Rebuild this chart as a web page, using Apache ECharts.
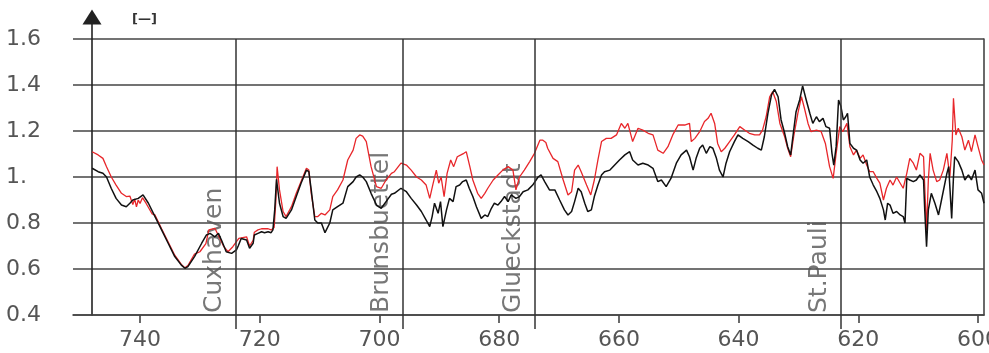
<!DOCTYPE html>
<html>
<head>
<meta charset="utf-8">
<script src="https://cdn.jsdelivr.net/npm/echarts@6/dist/echarts.min.js"></script>
<style>
  html, body { margin: 0; padding: 0; background: #fff; }
  #chart { width: 989px; height: 353px; }
</style>
</head>
<body>
<div id="chart"></div>
<script>
// river km (decreasing downstream -> upstream)
const blackKm = [748.0, 747.0, 746.2, 745.6, 744.8, 744.0, 743.1, 742.3, 741.7, 741.2, 740.3, 739.5, 738.6, 737.5, 736.4, 735.3, 734.2, 733.1, 732.5, 732.0, 730.9, 729.7, 728.9, 728.3, 727.5, 726.9, 726.4, 725.6, 724.7, 723.9,
  723.6, 723.1, 722.2, 721.7, 721.1, 720.9, 720.3, 719.7, 719.2, 718.6, 718.1, 717.8, 717.5, 717.2, 716.7, 716.1, 715.6, 714.7, 713.9, 713.1, 712.2, 711.8, 711.4, 710.8, 710.3, 709.7, 709.1, 708.3, 707.8, 707.0, 706.1, 705.3, 704.4, 703.9, 703.3, 702.8, 702.2, 701.4, 700.5, 699.7, 698.9,
  698.0, 697.5, 696.4, 695.5, 694.7, 693.8, 693.0, 692.2, 691.6, 691.2, 690.8, 690.2, 689.8, 689.4, 688.8, 688.3, 687.7, 687.2, 686.6, 686.1, 685.5, 685.0, 684.4, 683.8, 683.0, 682.4, 681.9, 681.3, 680.8, 680.2, 679.7, 679.1, 678.5, 678.0, 677.2, 676.6, 676.0, 675.2, 674.4, 673.5,
  673.0, 672.4, 671.6, 670.7, 669.9, 669.1, 668.5, 667.9, 667.4, 666.8, 666.3, 665.7, 665.2, 664.6, 664.1, 663.5, 662.9, 662.4, 661.5, 660.7, 659.9, 659.0, 658.2, 657.7, 656.8, 656.0, 655.1, 654.3, 653.5, 652.9, 652.1, 651.3, 650.4, 649.6, 648.7,
  648.2, 647.6, 647.1, 646.5, 646.0, 645.4, 644.8, 644.3, 643.7, 643.2, 642.6, 642.1, 641.5, 640.7, 640.1, 639.3, 638.4, 637.6, 636.8, 636.2, 635.7, 635.1, 634.5, 634.0, 633.4, 632.9, 632.3, 631.8, 631.3, 631.0, 630.4, 629.8, 629.3, 628.7, 628.1, 627.6, 627.0, 626.5, 625.9, 625.4, 624.8, 624.4, 624.1, 623.7, 623.3,
  622.9, 622.5, 622.1, 621.8, 621.4, 620.8, 620.3, 619.7, 619.2, 618.6, 618.1, 617.5, 616.9, 616.4, 615.8, 615.5, 615.1, 614.7, 614.2, 613.6, 613.0, 612.5, 612.2, 611.9, 611.4, 610.8, 610.3, 609.7, 609.1, 608.9, 608.6, 608.3, 607.8, 607.2, 606.6, 606.1, 605.2, 604.9, 604.4, 604.1, 603.9, 603.3, 602.7, 602.2, 601.6, 601.1, 600.5, 600.0, 599.4, 599.0];
const blackVal = [1.038, 1.023, 1.016, 1.000, 0.950, 0.907, 0.878, 0.871, 0.886, 0.900, 0.907, 0.922, 0.886, 0.828, 0.770, 0.712, 0.654, 0.617, 0.603, 0.610, 0.654, 0.712, 0.748, 0.755, 0.740, 0.755, 0.726, 0.675, 0.668, 0.683,
  0.700, 0.733, 0.726, 0.690, 0.712, 0.748, 0.755, 0.762, 0.758, 0.762, 0.758, 0.770, 0.857, 0.990, 0.886, 0.828, 0.820, 0.857, 0.915, 0.973, 1.030, 1.023, 0.944, 0.813, 0.800, 0.800, 0.758, 0.800, 0.857, 0.871, 0.886, 0.958, 0.980, 1.000, 1.009, 1.000, 0.980, 0.929, 0.878, 0.864, 0.893,
  0.925, 0.929, 0.951, 0.936, 0.907, 0.878, 0.850, 0.813, 0.784, 0.828, 0.886, 0.842, 0.893, 0.784, 0.857, 0.907, 0.893, 0.958, 0.965, 0.980, 0.987, 0.951, 0.915, 0.871, 0.820, 0.835, 0.828, 0.864, 0.886, 0.878, 0.893, 0.915, 0.893, 0.922, 0.907, 0.915, 0.936, 0.944, 0.965, 1.000,
  1.009, 0.980, 0.944, 0.944, 0.900, 0.857, 0.835, 0.850, 0.893, 0.951, 0.936, 0.886, 0.850, 0.857, 0.915, 0.965, 1.009, 1.023, 1.030, 1.052, 1.074, 1.096, 1.110, 1.074, 1.052, 1.060, 1.052, 1.038, 0.980, 0.987, 0.958, 0.994, 1.060, 1.096, 1.117,
  1.088, 1.030, 1.081, 1.125, 1.139, 1.103, 1.132, 1.125, 1.081, 1.030, 1.000, 1.060, 1.110, 1.154, 1.183, 1.168, 1.154, 1.139, 1.125, 1.117, 1.175, 1.277, 1.357, 1.381, 1.349, 1.248, 1.190, 1.132, 1.096, 1.161, 1.284, 1.335, 1.396, 1.335, 1.277, 1.233, 1.262, 1.241, 1.255, 1.219, 1.212, 1.103, 1.052, 1.132, 1.335,
  1.306, 1.248, 1.262, 1.277, 1.146, 1.125, 1.117, 1.074, 1.060, 1.074, 1.000, 0.965, 0.936, 0.907, 0.857, 0.813, 0.886, 0.878, 0.842, 0.850, 0.835, 0.828, 0.800, 0.994, 0.987, 0.980, 0.987, 1.009, 0.987, 0.857, 0.697, 0.857, 0.929, 0.886, 0.835, 0.900, 1.016, 1.045, 0.820, 1.000, 1.088, 1.067, 1.030, 0.987, 1.009, 0.987, 1.030, 0.944, 0.929, 0.886];

const redKm = [748.0, 747.0, 746.2, 745.6, 744.8, 744.0, 743.1, 742.3, 741.7, 741.2, 740.9, 740.6, 740.3, 740.0, 739.6, 739.0, 738.0, 737.5, 736.4, 735.3, 734.2, 733.1, 732.5, 732.0, 730.9, 730.0, 729.0, 728.5, 727.5, 726.8, 726.0, 725.3, 724.5, 723.5,
  722.2, 721.7, 721.1, 720.9, 720.3, 719.7, 718.6, 718.1, 717.6, 717.3, 717.1, 716.7, 716.1, 715.6, 714.7, 713.9, 713.1, 712.2, 711.8, 711.4, 710.8, 710.3, 709.7, 709.1, 708.3, 707.8, 707.0, 706.1, 705.3, 704.4, 703.9, 703.3, 702.8, 702.2, 701.4, 700.5, 699.7, 698.9,
  698.0, 697.5, 696.4, 695.5, 694.7, 693.8, 693.0, 692.2, 691.6, 691.1, 690.5, 690.1, 689.7, 689.2, 688.7, 688.1, 687.6, 687.0, 686.4, 685.9, 685.5, 684.9, 684.4, 683.6, 683.0, 682.4, 681.9, 681.0, 680.2, 679.4, 678.5, 677.7, 677.2, 676.6, 675.8, 674.9, 674.1, 673.2,
  672.7, 672.2, 671.9, 671.0, 670.2, 669.3, 668.5, 667.9, 667.4, 666.8, 666.3, 665.4, 664.7, 664.1, 663.5, 662.9, 662.1, 661.3, 660.4, 659.6, 659.0, 658.5, 657.7, 656.8, 656.0, 655.1, 654.3, 653.5, 652.6, 651.8, 651.0, 650.1, 649.0, 648.2,
  647.9, 647.3, 646.5, 645.7, 645.1, 644.6, 644.0, 643.5, 642.9, 642.3, 641.5, 640.7, 639.8, 639.0, 638.2, 637.3, 636.5, 636.0, 635.4, 634.8, 634.3, 633.7, 633.1, 632.3, 631.8, 631.3, 630.8, 630.1, 629.5, 629.0, 628.4, 627.9, 627.0, 626.2, 625.5, 624.8, 624.2, 623.7, 623.1, 622.6,
  622.3, 621.9, 621.4, 620.8, 620.3, 619.7, 619.2, 618.6, 618.1, 617.5, 616.9, 616.4, 615.8, 615.3, 614.7, 614.2, 613.6, 613.0, 612.5, 611.9, 611.4, 610.8, 610.3, 609.7, 609.1, 608.9, 608.6, 608.3, 608.0, 607.5, 606.9, 606.4, 605.8, 605.2, 604.7, 604.3, 604.1, 603.7, 603.3, 602.7, 602.2, 601.6, 601.1, 600.5, 600.0, 599.4, 599.0];
const redVal = [1.110, 1.096, 1.081, 1.045, 1.000, 0.965, 0.929, 0.915, 0.917, 0.880, 0.905, 0.870, 0.900, 0.885, 0.910, 0.886, 0.840, 0.835, 0.775, 0.717, 0.660, 0.620, 0.605, 0.615, 0.665, 0.675, 0.710, 0.770, 0.777, 0.740, 0.697, 0.675, 0.697, 0.733,
  0.740, 0.700, 0.725, 0.760, 0.770, 0.775, 0.775, 0.770, 0.780, 0.900, 1.045, 0.944, 0.850, 0.828, 0.871, 0.929, 0.980, 1.038, 1.030, 0.929, 0.828, 0.828, 0.842, 0.835, 0.857, 0.915, 0.944, 0.987, 1.074, 1.117, 1.168, 1.183, 1.178, 1.154, 1.045, 0.958, 0.951, 0.987,
  1.016, 1.023, 1.060, 1.052, 1.030, 1.000, 0.987, 0.965, 0.907, 0.965, 1.030, 0.973, 1.000, 0.915, 1.016, 1.074, 1.045, 1.088, 1.096, 1.103, 1.110, 1.045, 0.987, 0.929, 0.907, 0.929, 0.951, 0.987, 1.009, 1.030, 1.045, 1.030, 0.944, 1.000, 1.030, 1.067, 1.103, 1.160,
  1.160, 1.150, 1.125, 1.081, 1.067, 0.987, 0.922, 0.936, 1.030, 1.052, 1.023, 0.965, 0.922, 0.987, 1.074, 1.154, 1.168, 1.168, 1.183, 1.233, 1.212, 1.233, 1.154, 1.212, 1.204, 1.190, 1.183, 1.117, 1.103, 1.132, 1.183, 1.226, 1.226, 1.233,
  1.154, 1.168, 1.197, 1.241, 1.255, 1.277, 1.233, 1.146, 1.110, 1.125, 1.154, 1.183, 1.219, 1.204, 1.190, 1.183, 1.183, 1.204, 1.262, 1.349, 1.371, 1.328, 1.233, 1.175, 1.125, 1.088, 1.175, 1.277, 1.349, 1.299, 1.233, 1.197, 1.204, 1.197, 1.146, 1.045, 0.994, 1.103, 1.219, 1.197,
  1.204, 1.233, 1.132, 1.096, 1.117, 1.081, 1.096, 1.052, 1.023, 1.023, 0.994, 0.973, 0.900, 0.951, 0.987, 0.965, 1.000, 0.973, 0.951, 1.016, 1.081, 1.060, 1.030, 1.103, 1.088, 0.958, 0.770, 0.987, 1.103, 1.030, 0.980, 0.987, 1.030, 1.103, 1.000, 1.161, 1.342, 1.183, 1.212, 1.175, 1.117, 1.160, 1.110, 1.183, 1.132, 1.074, 1.052];

const stationNames = ['Cuxhaven', 'Brunsbuettel', 'Glueckstadt', 'St.Pauli'];
const stationKm = [724.0, 696.1, 674.0, 622.9];

const xTicks = [740, 720, 700, 680, 660, 640, 620, 600];
const yTicks = [0.4, 0.6, 0.8, 1.0, 1.2, 1.4, 1.6];
const yLabels = ['0.4', '0.6', '0.8', '1.', '1.2', '1.4', '1.6'];

const zip = (xs, ys) => xs.map((x, i) => [x, ys[i]]);

const FONT = 'DejaVu Sans';
const TEXT = '#555';
const LINE = '#444';

const chart = echarts.init(document.getElementById('chart'));
chart.setOption({
  animation: false,
  title: {
    text: '[—]', left: 127, top: 8,
    textStyle: { fontSize: 13, fontWeight: 'bold', color: '#333', fontFamily: FONT },
  },
  grid: [
    // data area
    { left: 73, right: 5, top: 39, bottom: 38, containLabel: false, outerBoundsMode: 'none' },
    // left axis with arrow
    { left: 92, right: 5, top: 17, bottom: 38, containLabel: false, outerBoundsMode: 'none' },
    // station lines, running a bit below the axis
    { left: 73, right: 5, top: 39, bottom: 24, containLabel: false, outerBoundsMode: 'none' },
  ],
  xAxis: [
    {
      gridIndex: 0, type: 'value', inverse: true, min: 599, max: 751.2,
      splitLine: { show: false },
      axisLine: { show: true, lineStyle: { color: LINE, width: 1.6 } },
      axisTick: { show: true, customValues: xTicks, length: 8, lineStyle: { color: LINE, width: 1.6 } },
      axisLabel: { customValues: xTicks, margin: 14, fontSize: 22, color: TEXT, fontFamily: FONT },
    },
    { gridIndex: 1, type: 'value', inverse: true, min: 599, max: 748, show: false },
    { gridIndex: 2, type: 'value', inverse: true, min: 599, max: 751.2, show: false },
  ],
  yAxis: [
    {
      gridIndex: 0, type: 'value', min: 0.4, max: 1.6, interval: 0.2,
      axisLine: { show: false }, axisTick: { show: false },
      splitLine: { show: true, lineStyle: { color: LINE, width: 1.6 } },
      axisLabel: {
        margin: 67, align: 'left', fontSize: 22, color: TEXT, fontFamily: FONT,
        formatter: v => {
          const i = yTicks.findIndex(t => Math.abs(t - v) < 1e-6);
          return i >= 0 ? yLabels[i] : '';
        },
      },
    },
    {
      gridIndex: 1, type: 'value', min: 0, max: 1,
      axisLine: { show: true, symbol: ['none', 'triangle'], symbolSize: [19, 15], lineStyle: { color: '#222', width: 1.6 } },
      axisTick: { show: false }, axisLabel: { show: false }, splitLine: { show: false },
    },
    { gridIndex: 2, type: 'value', min: 0, max: 1, show: false },
    {
      gridIndex: 0, type: 'value', position: 'right', min: 0.4, max: 1.6,
      axisLine: { show: true, lineStyle: { color: LINE, width: 1.6 } },
      axisTick: { show: false }, axisLabel: { show: false }, splitLine: { show: false },
    },
  ],
  series: [
    {
      name: 'stations', type: 'line', xAxisIndex: 2, yAxisIndex: 2, data: [],
      markLine: {
        silent: true, symbol: ['none', 'none'], label: { show: false },
        lineStyle: { color: '#333', width: 1.5, type: 'solid' },
        data: stationKm.map(k => ({ xAxis: k })),
      },
    },
    {
      name: 'red', type: 'line', xAxisIndex: 0, yAxisIndex: 0,
      data: zip(redKm, redVal), showSymbol: false, symbol: 'none',
      lineStyle: { color: '#e8262a', width: 1.3 },
    },
    {
      name: 'black', type: 'line', xAxisIndex: 0, yAxisIndex: 0,
      data: zip(blackKm, blackVal), showSymbol: false, symbol: 'none',
      lineStyle: { color: '#111', width: 1.5 },
    },
    {
      name: 'labels', type: 'scatter', xAxisIndex: 0, yAxisIndex: 0,
      symbolSize: 0, silent: true,
      data: stationKm.map((k, i) => ({ value: [k, 0.4], name: stationNames[i] })),
      label: {
        show: true, formatter: p => p.name, rotate: 90,
        position: [-9, -2], align: 'left', verticalAlign: 'bottom',
        fontSize: 25, color: TEXT, fontFamily: FONT,
      },
    },
  ],
});
</script>
</body>
</html>
